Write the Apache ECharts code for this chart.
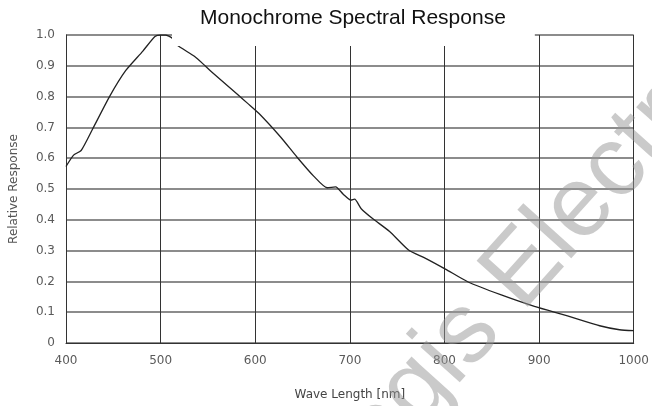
<!DOCTYPE html>
<html>
<head>
<meta charset="utf-8">
<script src="https://cdn.jsdelivr.net/npm/echarts@6/dist/echarts.min.js"></script>
<style>
html,body{margin:0;padding:0;background:#fff;overflow:hidden;}
#c{width:652px;height:406px;}
</style>
</head>
<body>
<div id="c"></div>
<script>
var titleText = 'Monochrome Spectral Response';
var xName = 'Wave Length [nm]';
var yName = 'Relative Response';
var wavelengths = [400,408,416,428,446,463,481,494,500,505,512,517,536,547,554,582,592,604,627,644,662,676,685,693,701,705,712,724,742,762,780,801,825,860,895,930,964,985,1000];
var response = [0.573,0.61,0.625,0.694,0.80,0.884,0.947,0.995,1.0,1.0,0.99,0.968,0.930,0.90,0.88,0.805,0.778,0.745,0.668,0.604,0.541,0.504,0.507,0.483,0.464,0.467,0.436,0.404,0.362,0.302,0.275,0.24,0.198,0.156,0.119,0.088,0.056,0.043,0.04];
var watermark = 'Regis Electronics';

var pts = wavelengths.map(function(w,i){return [w,response[i]];});
var chart = echarts.init(document.getElementById('c'), null, {renderer:'canvas'});
var font = '"Liberation Sans", Arial, sans-serif';
var font2 = '"DejaVu Sans", sans-serif';
var ang = 48*Math.PI/180;
chart.setOption({
  animation:false,
  backgroundColor:'#fff',
  title:{
    text:titleText,
    left:172, top:0,
    backgroundColor:'#fff',
    padding:[8,29,17,28],
    textStyle:{fontFamily:font,fontSize:21,fontWeight:'normal',color:'#111'},
    z:6
  },
  grid:{left:66,right:10,top:35,bottom:55,containLabel:false},
  xAxis:{
    type:'value',min:400,max:1000,interval:100,
    name:xName,nameLocation:'middle',nameGap:46,
    nameTextStyle:{fontFamily:font2,fontSize:12,color:'#444'},
    axisLine:{show:true,lineStyle:{color:'#333',width:1}},
    axisTick:{show:false},
    axisLabel:{fontFamily:font2,fontSize:12,color:'#5a5a5a',margin:12,
      formatter:function(v){return String(v);}},
    splitLine:{show:true,lineStyle:{color:'#333',width:1}}
  },
  yAxis:{
    type:'value',min:0,max:1,interval:0.1,
    name:yName,nameLocation:'middle',nameGap:46,nameRotate:90,
    nameTextStyle:{fontFamily:font2,fontSize:12,color:'#555'},
    axisLine:{show:true,lineStyle:{color:'#333',width:1}},
    axisTick:{show:false},
    axisLabel:{fontFamily:font2,fontSize:12,color:'#5a5a5a',margin:11,
      formatter:function(v){return v===0?'0':v.toFixed(1);}},
    splitLine:{show:true,lineStyle:{color:'#8c8c8c',width:2}}
  },
  graphic:[{
    type:'text',
    x:312, y:505,
    rotation:ang,
    z:100,
    silent:true,
    style:{text:watermark,fontSize:100,fontFamily:'"Liberation Sans", Arial, sans-serif',
      textAlign:'left',textVerticalAlign:'middle',fill:'rgba(150,150,150,0.5)'}
  }],
  series:[{
    type:'line',data:pts,showSymbol:false,smooth:0.2,
    lineStyle:{color:'#222',width:1.3},
    z:2
  }]
});
</script>
</body>
</html>
